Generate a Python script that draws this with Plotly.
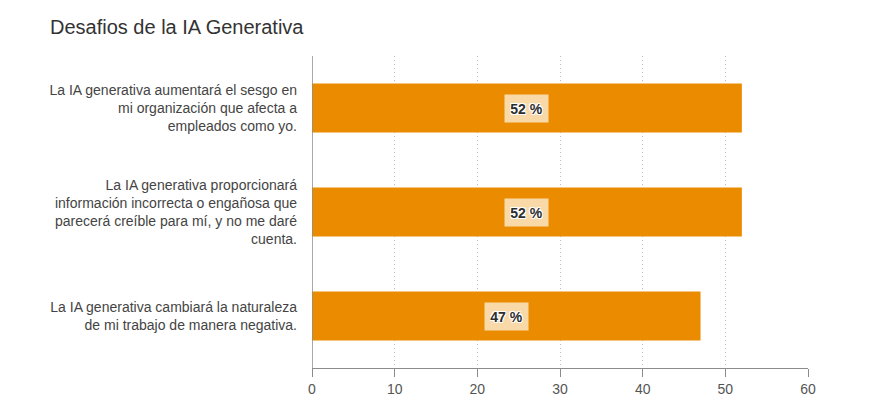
import plotly.graph_objects as go

categories = [
    "La IA generativa aumentará el sesgo en<br>mi organización que afecta a<br>empleados como yo.",
    "La IA generativa proporcionará<br>información incorrecta o engañosa que<br>parecerá creíble para mí, y no me daré<br>cuenta.",
    "La IA generativa cambiará la naturaleza<br>de mi trabajo de manera negativa.",
]
values = [52, 52, 47]
labels = ["52 %", "52 %", "47 %"]
tick_vals = [0, 10, 20, 30, 40, 50, 60]
title_text = "Desafios de la IA Generativa"

FONT = "Liberation Sans, Arial, Helvetica, sans-serif"

fig = go.Figure()
fig.add_trace(go.Bar(
    x=values,
    y=categories,
    orientation="h",
    marker=dict(color="#EB8C00", line=dict(width=0)),
    hoverinfo="skip",
))

for cat, v, lab in zip(categories, values, labels):
    fig.add_annotation(
        x=v / 2, y=cat, xref="x", yref="y",
        text="<b>" + lab + "</b>",
        showarrow=False,
        bgcolor="#FAD9A8",
        borderpad=5,
        width=33, height=17,
        font=dict(family=FONT, size=14, color="#2d2d2d",
                  shadow="1px 1px 0 #fff, -1px -1px 0 #fff, 1px -1px 0 #fff, -1px 1px 0 #fff"),
    )

fig.update_layout(
    width=878, height=420,
    margin=dict(l=312, r=70, t=56, b=52, autoexpand=False),
    paper_bgcolor="white", plot_bgcolor="white",
    font=dict(family=FONT, size=14, color="#444"),
    showlegend=False,
    bargap=0.53,
    title=dict(
        text=title_text,
        font=dict(family=FONT, size=20, color="#333"),
        xref="container", yref="container",
        x=50 / 878, xanchor="left",
        y=1 - 27 / 420, yanchor="middle",
    ),
    xaxis=dict(
        range=[0, 60],
        tickvals=tick_vals,
        showgrid=True, gridcolor="#bdbdbd", griddash="1px,3px", gridwidth=1,
        zeroline=False,
        showline=True, linecolor="#8c8c8c", linewidth=1,
        ticks="outside", ticklen=8, tickcolor="#8c8c8c", tickwidth=1,
        tickfont=dict(family=FONT, size=14, color="#555"),
        fixedrange=True,
    ),
    yaxis=dict(
        categoryorder="array", categoryarray=categories[::-1],
        showgrid=False, zeroline=False,
        showline=False,
        ticks="", ticklabelstandoff=14,
        tickfont=dict(family=FONT, size=14, color="#444"),
        fixedrange=True,
    ),
)

fig.add_shape(type="line", xref="x", yref="paper", x0=0, x1=0, y0=0, y1=1,
              line=dict(color="#8c8c8c", width=1.5), layer="above")

fig.write_html("out.html", config={"displayModeBar": False},
               post_script="document.body.style.margin='0';")
